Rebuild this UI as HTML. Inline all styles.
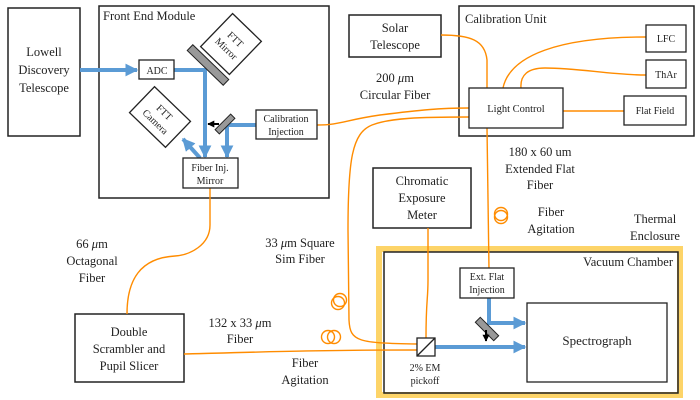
<!DOCTYPE html>
<html><head><meta charset="utf-8"><style>
html,body{margin:0;padding:0;background:#fff}
svg{display:block}
text{font-family:"Liberation Serif",serif;fill:#222}
</style></head><body>
<svg width="700" height="400" viewBox="0 0 700 400" xmlns="http://www.w3.org/2000/svg">
<defs>
<marker id="ab" viewBox="0 0 10 10" refX="9" refY="5" markerWidth="3.2" markerHeight="3.2" orient="auto"><path d="M0,0 L10,5 L0,10 z" fill="#5b9bd5"/></marker>
<marker id="ak" viewBox="0 0 10 10" refX="9" refY="5" markerWidth="3.5" markerHeight="3.5" orient="auto"><path d="M0,0 L10,5 L0,10 z" fill="#000"/></marker>
</defs>
<g fill="none" stroke="#222" stroke-width="1.5">
<rect x="8" y="8" width="72" height="128" fill="#fff"/>
<rect x="99" y="6" width="230" height="192"/>
<rect x="349" y="15" width="92" height="42"/>
<rect x="459" y="6" width="235" height="130"/>
<rect x="373" y="168" width="98" height="60"/>
<rect x="75" y="314" width="109" height="68"/>
</g>
<rect x="379" y="249" width="301" height="146" fill="none" stroke="#fdd468" stroke-width="6"/>
<rect x="384" y="252" width="294" height="141" fill="none" stroke="#222" stroke-width="1.5"/>
<g fill="none" stroke="#ff8c00" stroke-width="1.4">
<path d="M210,188 L210,225 C210,245 190,255 175,256 C140,258 127,280 127,314"/>
<path d="M441,35 C470,35 485,40 487,60 L487,88"/>
<path d="M503,88 C510,55 560,37 646,37"/>
<path d="M521,88 C520,75 528,68 545,68 C580,68 610,75 646,75"/>
<path d="M563,111 L624,111"/>
<path d="M317,125 C340,125 345,120 380,115 C420,110 440,108 469,108"/>
<path d="M469,117 C420,117 390,118 372,125 C352,133 348,160 348,230 L349,320 C350,342 358,343 418,344"/>
<path d="M184,354 C260,352 320,350 418,350"/>
<path d="M487,128 L489,270"/>
<path d="M428,228 L428,280 C428,300 426,300 426,338"/>
<circle cx="340" cy="300" r="6.5"/><circle cx="338" cy="303" r="6.5"/>
<circle cx="328" cy="337" r="6.5"/><circle cx="334" cy="337" r="6.5"/>
<circle cx="501" cy="214" r="6.5"/><circle cx="501" cy="217" r="6.5"/>
</g>
<g fill="none" stroke="#5b9bd5" stroke-width="4">
<path d="M80,70 L137,70" marker-end="url(#ab)"/>
<path d="M174,70 L205,70 L205,157" marker-end="url(#ab)"/>
<path d="M256,125 L227,125 L227,157" marker-end="url(#ab)"/>
<path d="M200,158 L183,139" marker-end="url(#ab)"/>
<path d="M435,347 L525,347" marker-end="url(#ab)"/>
<path d="M489,298 L489,323 L525,323" marker-end="url(#ab)"/>
</g>
<g fill="#fff" stroke="#222" stroke-width="1.3">
<rect x="139" y="60" width="35" height="19"/>
<rect x="183" y="158" width="55" height="30"/>
<rect x="256" y="110" width="61" height="29"/>
<rect x="469" y="88" width="94" height="40"/>
<rect x="646" y="25" width="40" height="27"/>
<rect x="646" y="60" width="40" height="28"/>
<rect x="624" y="96" width="62" height="29"/>
<rect x="460" y="268" width="54" height="30"/>
<rect x="527" y="303" width="140" height="79"/>
<rect x="417" y="338" width="18" height="18"/>
<g transform="translate(231,44) rotate(44)"><rect x="-20" y="-23" width="40" height="46"/></g>
<g transform="translate(160,117) rotate(44)"><rect x="-25" y="-18" width="50" height="36"/></g>
</g>
<line x1="417" y1="356" x2="435" y2="338" stroke="#222" stroke-width="1.3"/>
<g fill="#999" stroke="#222" stroke-width="1">
<g transform="translate(208,65) rotate(44)"><rect x="-25" y="-4" width="50" height="8"/></g>
<g transform="translate(225,124) rotate(-45)"><rect x="-11" y="-3" width="22" height="6"/></g>
<g transform="translate(487,329) rotate(45)"><rect x="-13" y="-3.5" width="26" height="7"/></g>
</g>
<path d="M219,124 L208,124" stroke="#000" stroke-width="2" marker-end="url(#ak)"/>
<path d="M486,330 L486,341" stroke="#000" stroke-width="2" marker-end="url(#ak)"/>
<g font-size="12.5" text-anchor="middle">
<text x="44" y="56">Lowell</text><text x="44" y="74">Discovery</text><text x="44" y="92">Telescope</text>
<text x="395" y="32">Solar</text><text x="395" y="49">Telescope</text>
<text x="395" y="82">200 <tspan font-style="italic">μ</tspan>m</text><text x="395" y="99">Circular Fiber</text>
<text x="422" y="185">Chromatic</text><text x="422" y="202">Exposure</text><text x="422" y="219">Meter</text>
<text x="540" y="156">180 x 60 um</text><text x="540" y="173">Extended Flat</text><text x="540" y="189">Fiber</text>
<text x="551" y="216">Fiber</text><text x="551" y="233">Agitation</text>
<text x="655" y="223">Thermal</text><text x="655" y="240">Enclosure</text>
<text x="92" y="248">66 <tspan font-style="italic">μ</tspan>m</text><text x="92" y="265">Octagonal</text><text x="92" y="282">Fiber</text>
<text x="300" y="247">33 <tspan font-style="italic">μ</tspan>m Square</text><text x="300" y="263">Sim Fiber</text>
<text x="240" y="327">132 x 33 <tspan font-style="italic">μ</tspan>m</text><text x="240" y="343">Fiber</text>
<text x="305" y="367">Fiber</text><text x="305" y="384">Agitation</text>
<text x="129" y="336">Double</text><text x="129" y="353">Scrambler and</text><text x="129" y="370">Pupil Slicer</text>
<text x="597" y="345" font-size="13">Spectrograph</text>
</g>
<text x="103" y="20" font-size="12.5">Front End Module</text>
<text x="465" y="23" font-size="12.5">Calibration Unit</text>
<text x="673" y="266" font-size="12.5" text-anchor="end">Vacuum Chamber</text>
<g font-size="10" text-anchor="middle">
<text x="157" y="74">ADC</text>
<text x="210" y="171">Fiber Inj.</text><text x="210" y="184">Mirror</text>
<text x="286" y="122">Calibration</text><text x="286" y="135">Injection</text>
<text x="516" y="112" font-size="10.5">Light Control</text>
<text x="666" y="42">LFC</text><text x="666" y="78">ThAr</text>
<text x="655" y="114">Flat Field</text>
<text x="487" y="280">Ext. Flat</text><text x="487" y="293">Injection</text>
<text x="425" y="371">2% EM</text><text x="425" y="384">pickoff</text>
<g transform="translate(231,44) rotate(44)"><text x="0" y="-3">FTT</text><text x="0" y="10">Mirror</text></g>
<g transform="translate(160,117) rotate(44)"><text x="0" y="-3">FTT</text><text x="0" y="10">Camera</text></g>
</g>
</svg>
</body></html>
